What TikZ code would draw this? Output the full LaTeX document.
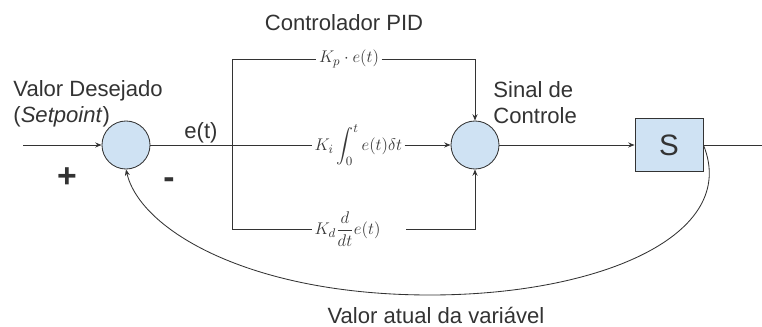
\documentclass[tikz,border=0pt]{standalone}
\usepackage{amsmath}
\usepackage{fontspec}
\setmainfont{Liberation Sans}
\usepackage{xcolor}
\usepackage{tikz}
\usetikzlibrary{arrows.meta, positioning}

\definecolor{blockblue}{HTML}{CFE2F3}
\definecolor{inkgray}{HTML}{333333}

\begin{document}
\begin{tikzpicture}[x=0.025cm, y=-0.025cm, line width=0.6pt, draw=inkgray, text=inkgray,
    font=\fontsize{15.7}{18.4}\selectfont,
    sumnode/.style={circle, draw=inkgray, fill=blockblue, minimum size=1.2cm, inner sep=0pt},
    plantbox/.style={rectangle, draw=inkgray, fill=blockblue, minimum width=1.7cm, minimum height=1.325cm,
        font=\fontsize{21}{24}\selectfont},
    gainlbl/.style={inner sep=1.5pt, text=black!78, font=\fontsize{12.8}{15}\selectfont},
    signlbl/.style={font=\fontsize{24}{26}\selectfont\bfseries},
    sigarrow/.style={-{Stealth[length=4.5pt, width=3.6pt]}}]
        \useasboundingbox (0,0) rectangle (762,327);
        % blocks
        \node[sumnode] (s1) at (126,145) {};
        \node[sumnode] (s2) at (475,145) {};
        \node[plantbox] (S) at (669,145) {S};
        % PID branches
        \coordinate (split) at (232,145);
        \node[gainlbl] (kp) at (349,59) {$K_p \cdot e(t)$};
        \node[gainlbl, anchor=west] (ki) at (312,145) {$\displaystyle K_i \int_0^t e(t)\delta t$};
        \node[gainlbl, anchor=west] (kd) at (312,229) {$\displaystyle K_d \frac{d}{dt} e(t)$};
        \coordinate (kdend) at (406,229);
        \draw (s1) -- (ki);
        \draw (split) |- (kp);
        \draw (split) |- (kd);
        \draw[sigarrow] (kp) -| (s2);
        \draw[sigarrow] (ki) -- (s2);
        \draw[sigarrow] (kdend) -| (s2);
        % input, output and feedback
        \coordinate (inpt) at (23,145);
        \coordinate (outpt) at (762,145);
        \draw[sigarrow] (inpt) -- (s1);
        \draw[sigarrow] (s2) -- (S);
        \draw (S) -- (outpt);
        \draw[sigarrow] (S.east) .. controls (740,235) and (600,295) .. (430,295)
            .. controls (250,295) and (140,230) .. (s1.south);
        % labels
        \node (pidlbl) at (344,23) {Controlador PID};
        \node[anchor=west, align=left, inner sep=0pt] (setpt) at (13,104) {Valor Desejado\\(\textit{Setpoint})};
        \node[anchor=west, align=left, inner sep=0pt] (ctrlsig) at (493,103) {Sinal de\\Controle};
        \node[inner sep=0pt] (etlbl) at (201,133) {e(t)};
        \node[signlbl, inner sep=0pt] (plus) at (67,178) {+};
        \node[signlbl, inner sep=0pt] (minus) at (169,183) {-};
        \node (fbklbl) at (436,315) {Valor atual da variável};
      \end{tikzpicture}
\end{document}
